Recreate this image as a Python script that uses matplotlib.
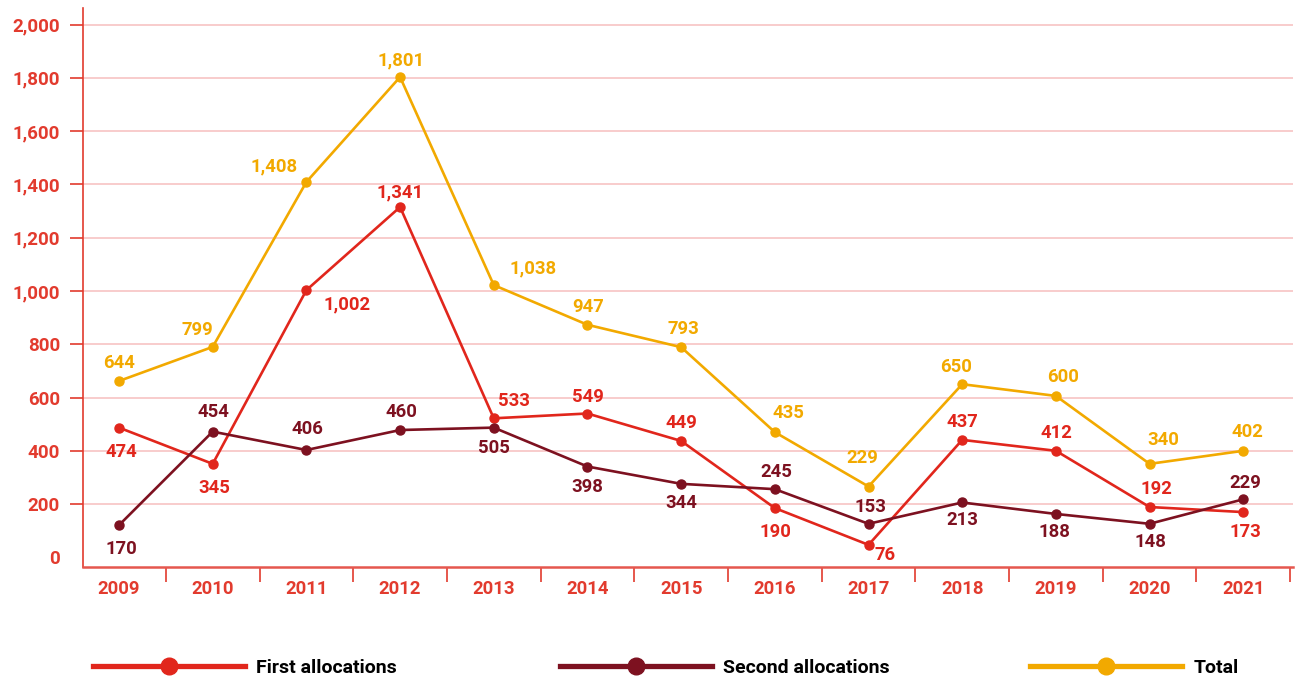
import matplotlib
matplotlib.use("Agg")
import matplotlib.pyplot as plt
from matplotlib.lines import Line2D

plt.rcParams['font.family'] = ['Roboto', 'DejaVu Sans']

years = ['2009', '2010', '2011', '2012', '2013', '2014', '2015',
         '2016', '2017', '2018', '2019', '2020', '2021']

# where the points sit on the chart
first_pos = [487, 351, 1003, 1315, 522, 540, 437, 185, 47, 441, 400, 189, 170]
second_pos = [121, 472, 403, 478, 487, 341, 276, 256, 126, 206, 163, 126, 218]
total_pos = [662, 790, 1409, 1803, 1022, 873, 789, 470, 266, 650, 606, 351, 400]

# printed value labels
first_lbl = ['474', '345', '1,002', '1,341', '533', '549', '449', '190', '76', '437', '412', '192', '173']
second_lbl = ['170', '454', '406', '460', '505', '398', '344', '245', '153', '213', '188', '148', '229']
total_lbl = ['644', '799', '1,408', '1,801', '1,038', '947', '793', '435', '229', '650', '600', '340', '402']

# label offsets in pixels (dx, dy)
first_off = [(2, -24), (2, -24), (41, -14), (0, 15), (20, 17), (0, 17), (0, 18),
             (1, -24), (17, -10), (0, 18), (1, 18), (7, 18), (2, -20)]
second_off = [(2, -24), (1, 20), (1, 21), (1, 18), (0, -20), (0, -20), (0, -19),
              (1, 17), (2, 17), (0, -18), (-1, -18), (1, -18), (2, 16)]
total_off = [(0, 18), (-15, 17), (-32, 16), (1, 17), (39, 17), (1, 18), (2, 18),
             (14, 19), (-6, 29), (-6, 17), (7, 19), (14, 24), (4, 19)]

c_first = '#e1261c'
c_second = '#7d1120'
c_total = '#f2a900'
c_axis = '#e23b2e'

fig = plt.figure(figsize=(12.98, 6.84), dpi=100)
ax = fig.add_axes([0.0639, 0.1711, 0.9322, 0.8172])

x = list(range(len(years)))
series = [(first_pos, first_lbl, first_off, c_first),
          (second_pos, second_lbl, second_off, c_second),
          (total_pos, total_lbl, total_off, c_total)]

for pos, lbl, off, col in [series[2], series[0], series[1]]:
    ax.plot(x, pos, color=col, lw=1.9, marker='o', ms=6.5, zorder=3)
    for xi, yi, t, (dx, dy) in zip(x, pos, lbl, off):
        ax.annotate(t, (xi, yi), xytext=(dx, dy), textcoords='offset pixels',
                    ha='center', va='center', color=col, fontsize=13.3,
                    fontweight='semibold', zorder=4)

ax.set_xlim(-0.385, 12.53)
ax.set_ylim(-36, 2062)

ax.set_yticks(range(0, 2001, 200))
ax.set_yticklabels([f'{v:,}' for v in range(0, 2001, 200)])
ax.grid(axis='y', color='#f7c3c3', lw=1.2, zorder=0)
ax.yaxis.get_major_ticks()[0].gridline.set_visible(False)
ax.yaxis.get_major_ticks()[0].tick1line.set_visible(False)
ax.tick_params(axis='y', length=9.5, width=1.2, color=c_axis, pad=7,
               labelsize=13.5, labelcolor=c_axis)
for t in ax.get_yticklabels():
    t.set_fontweight('semibold')

ax.set_xticks(x)
ax.set_xticklabels(years)
ax.set_xticks([i + 0.5 for i in range(len(years))], minor=True)
ax.tick_params(axis='x', which='major', length=0, pad=9.5, labelsize=13.3,
               labelcolor=c_axis)
ax.tick_params(axis='x', which='minor', length=11, width=1.2, color=c_axis)
for t in ax.get_xticklabels():
    t.set_fontweight('semibold')

for s in ['top', 'right']:
    ax.spines[s].set_visible(False)
ax.spines['left'].set_color(c_axis)
ax.spines['left'].set_linewidth(1.2)
ax.spines['bottom'].set_color('#e5574e')
ax.spines['bottom'].set_linewidth(1.8)

# legend, one entry at a time
entries = [('First allocations', c_first, 0.0716),
           ('Second allocations', c_second, 0.4314),
           ('Total', c_total, 0.7935)]
for name, col, lx in entries:
    h = Line2D([], [], color=col, lw=3.8, marker='o', ms=12)
    fig.legend([h], [name], loc='center left', bbox_to_anchor=(lx, 0.0234),
               frameon=False, handlelength=7.8, handletextpad=0.6,
               borderpad=0, borderaxespad=0, numpoints=1,
               prop={'size': 14, 'weight': 'bold'})

fig.savefig('out.png', dpi=100)
